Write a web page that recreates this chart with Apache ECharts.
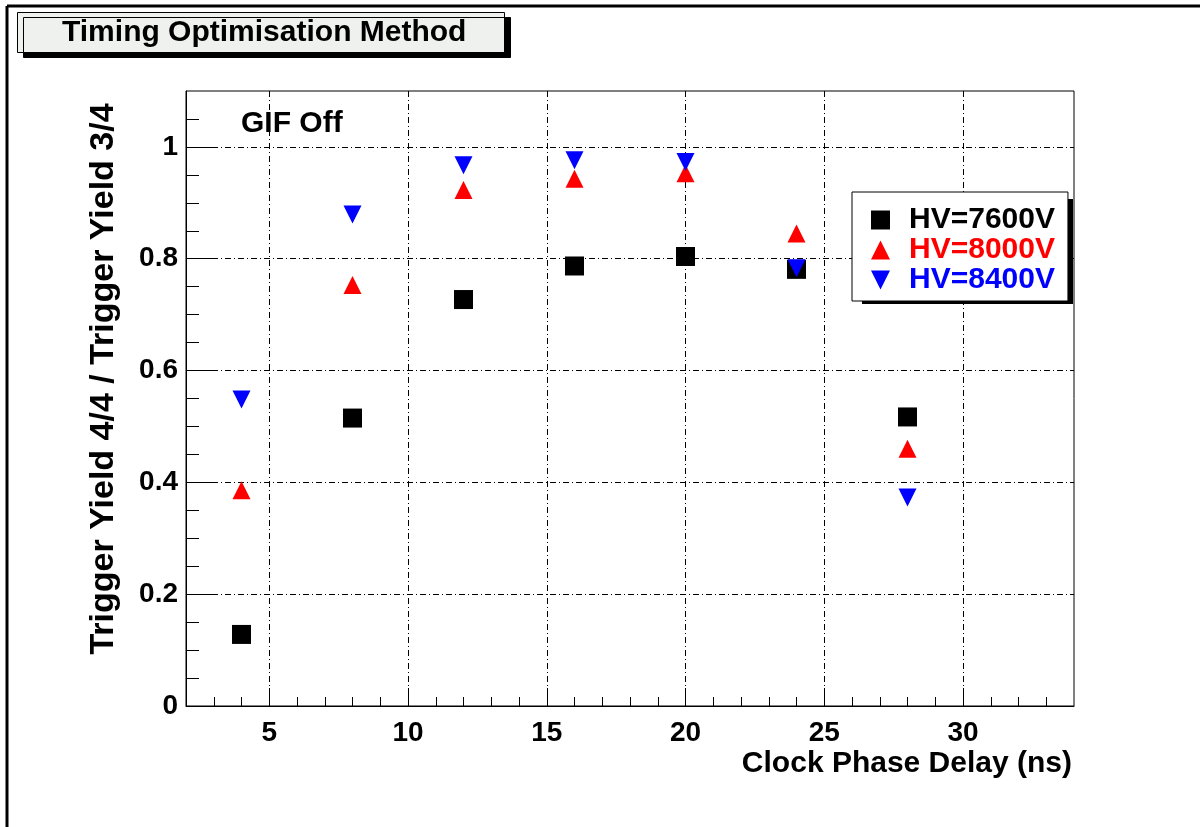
<!DOCTYPE html>
<html>
<head>
<meta charset="utf-8">
<script src="https://cdn.jsdelivr.net/npm/echarts@6/dist/echarts.min.js"></script>
<style>
html,body{margin:0;padding:0;background:#fff;}
#chart{width:1200px;height:827px;}
</style>
</head>
<body>
<div id="chart"></div>
<script>
// ---- data ----
const delays = [4, 8, 12, 16, 20, 24, 28];
const hv7600 = [0.128, 0.515, 0.727, 0.787, 0.804, 0.781, 0.517];
const hv8000 = [0.386, 0.753, 0.923, 0.943, 0.953, 0.845, 0.460];
const hv8400 = [0.548, 0.879, 0.967, 0.976, 0.973, 0.783, 0.373];
const seriesNames = ['HV=7600V', 'HV=8000V', 'HV=8400V'];
const xMajorTicks = [5, 10, 15, 20, 25, 30];
const xMinorTicks = [3, 4, 6, 7, 8, 9, 11, 12, 13, 14, 16, 17, 18, 19, 21, 22, 23, 24, 26, 27, 28, 29, 31, 32, 33];
const yMajorTicks = [0, 0.2, 0.4, 0.6, 0.8, 1.0];
const yTickLabels = ['0', '0.2', '0.4', '0.6', '0.8', '1'];
const yMinorTicks = [0.05, 0.1, 0.15, 0.25, 0.3, 0.35, 0.45, 0.5, 0.55, 0.65, 0.7, 0.75, 0.85, 0.9, 0.95, 1.05];
const titleText = 'Timing Optimisation Method';
const xTitle = 'Clock Phase Delay (ns)';
const yTitle = 'Trigger Yield 4/4 / Trigger Yield 3/4';
const noteText = 'GIF Off';

const FONT = '"Liberation Sans", Arial, Helvetica, sans-serif';
const pairs = arr => delays.map((d, i) => [d, arr[i]]);
const gridDash = [6, 3, 1, 3];
const colors = ['#000000', '#ff0000', '#0000ff'];
const richKeys = ['k', 'r', 'b'];

const chart = echarts.init(document.getElementById('chart'), null, {renderer: 'canvas'});
const yLabelFmt = v => {
  const i = yMajorTicks.findIndex(t => Math.abs(t - v) < 1e-6);
  return i >= 0 ? yTickLabels[i] : '';
};
const legendRich = {};
richKeys.forEach((k, i) => {
  legendRich[k] = {color: colors[i], fontFamily: FONT, fontSize: 30, fontWeight: 'bold', lineHeight: 29, padding: [0, 0, 0, 14]};
});

chart.setOption({
  animation: false,
  backgroundColor: '#fff',
  title: {
    text: titleText,
    left: 17, top: 12,
    padding: [5, 38, 5, 45],
    backgroundColor: '#eff1ef',
    borderColor: '#000', borderWidth: 1,
    shadowColor: '#000', shadowBlur: 0, shadowOffsetX: 6, shadowOffsetY: 5,
    textStyle: {fontFamily: FONT, fontSize: 30, fontWeight: 'bold', color: '#000', lineHeight: 31}
  },
  legend: {
    orient: 'vertical',
    left: 852, top: 192, z: 10,
    itemWidth: 19, itemHeight: 19, itemGap: 0,
    padding: [13, 13, 6, 19],
    backgroundColor: '#fff',
    borderColor: '#000', borderWidth: 1,
    selectedMode: false,
    formatter: name => '{' + richKeys[seriesNames.indexOf(name)] + '|' + name + '}',
    textStyle: {fontFamily: FONT, fontSize: 30, fontWeight: 'bold', lineHeight: 29, rich: legendRich},
    data: seriesNames.map((n, i) => ({name: n, textStyle: {color: colors[i]}}))
  },
  grid: {
    left: 186, right: 126, top: 91, bottom: 121,
    show: true, borderColor: '#000', borderWidth: 1, backgroundColor: 'transparent'
  },
  xAxis: [
    {
      type: 'value', min: 2, max: 34, minInterval: 5, maxInterval: 5, position: 'bottom',
      axisLine: {show: true, lineStyle: {color: '#000', width: 1}},
      axisTick: {show: true, inside: true, length: 18, customValues: xMajorTicks, lineStyle: {color: '#000', width: 1}},
      axisLabel: {show: true, customValues: xMajorTicks, margin: 13, fontFamily: FONT, fontSize: 28, fontWeight: 'bold', color: '#000'},
      splitLine: {show: true, lineStyle: {color: '#000', width: 1, type: gridDash}},
      minorTick: {show: false}
    },
    {
      type: 'value', min: 2, max: 34, position: 'bottom',
      axisLine: {show: false},
      axisTick: {show: true, inside: true, length: 9, customValues: xMinorTicks, lineStyle: {color: '#000', width: 1}},
      axisLabel: {show: false},
      splitLine: {show: false}
    }
  ],
  yAxis: [
    {
      type: 'value', min: 0, max: 1.1, interval: 0.2, position: 'left',
      axisLine: {show: true, lineStyle: {color: '#000', width: 1}},
      axisTick: {show: true, inside: true, length: 27, customValues: yMajorTicks, lineStyle: {color: '#000', width: 1}},
      axisLabel: {show: true, customValues: yMajorTicks, formatter: yLabelFmt, margin: 8, fontFamily: FONT, fontSize: 28, fontWeight: 'bold', color: '#000'},
      splitLine: {show: true, lineStyle: {color: '#000', width: 1, type: gridDash}}
    },
    {
      type: 'value', min: 0, max: 1.1, position: 'left',
      axisLine: {show: false},
      axisTick: {show: true, inside: true, length: 13, customValues: yMinorTicks, lineStyle: {color: '#000', width: 1}},
      axisLabel: {show: false},
      splitLine: {show: false}
    }
  ],
  graphic: [
    {type: 'line', z: 100, shape: {x1: 7, y1: 6, x2: 1200, y2: 6}, style: {stroke: '#000', lineWidth: 3}},
    {type: 'line', z: 100, shape: {x1: 7, y1: 6, x2: 7, y2: 827}, style: {stroke: '#000', lineWidth: 3}},
    {type: 'rect', z: 5, shape: {x: 862, y: 199, width: 211, height: 105}, style: {fill: '#000'}},
    {type: 'text', z: 100, x: 1072, y: 764, style: {text: xTitle, align: 'right', verticalAlign: 'middle', font: 'bold 30px ' + FONT, fill: '#000'}},
    {type: 'text', z: 100, x: 104, y: 379, rotation: Math.PI / 2, style: {text: yTitle, align: 'center', verticalAlign: 'middle', font: 'bold 34px ' + FONT, fill: '#000'}},
    {type: 'text', z: 100, x: 241, y: 124, style: {text: noteText, align: 'left', verticalAlign: 'middle', font: 'bold 30px ' + FONT, fill: '#000'}}
  ],
  series: [
    {name: seriesNames[0], type: 'scatter', xAxisIndex: 0, yAxisIndex: 0, symbol: 'rect', symbolSize: 19, itemStyle: {color: colors[0], opacity: 1}, data: pairs(hv7600), z: 3},
    {name: seriesNames[1], type: 'scatter', xAxisIndex: 0, yAxisIndex: 0, symbol: 'triangle', symbolSize: 18, itemStyle: {color: colors[1], opacity: 1}, data: pairs(hv8000), z: 4},
    {name: seriesNames[2], type: 'scatter', xAxisIndex: 0, yAxisIndex: 0, symbol: 'path://M0,0L2,0L1,2Z', symbolSize: 18, itemStyle: {color: colors[2], opacity: 1}, data: pairs(hv8400), z: 5}
  ]
});
</script>
</body>
</html>
